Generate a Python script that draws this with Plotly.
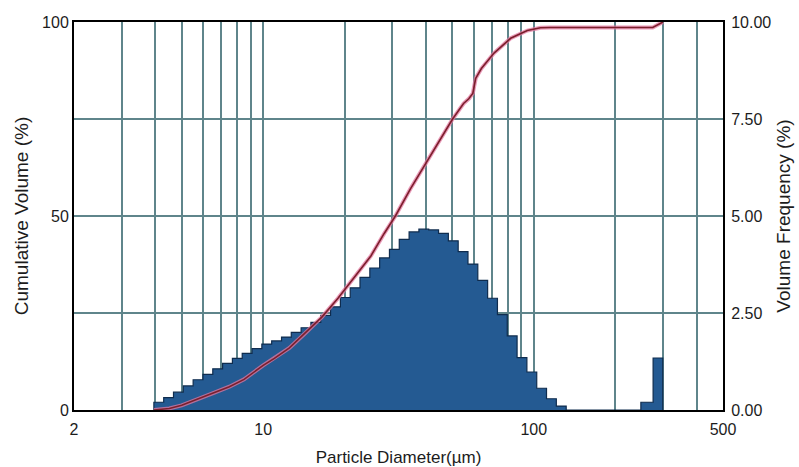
import plotly.graph_objects as go

# Lower edge of each analyser channel (µm); the last value closes the last channel
edges_um = [3.946, 4.290, 4.663, 5.069, 5.511, 5.991, 6.513, 7.080, 7.697, 8.367,
            9.096, 9.888, 10.75, 11.69, 12.70, 13.81, 15.01, 16.32, 17.74, 19.29,
            20.97, 22.79, 24.78, 26.94, 29.28, 31.83, 34.61, 37.62, 40.90, 44.46,
            48.33, 52.54, 57.11, 62.09, 67.50, 73.38, 79.77, 86.72, 94.27, 102.5,
            111.4, 121.1, 131.7, 248.6, 275.9, 299.5]

# Volume frequency (%) in each channel
freq_pct = [0.20, 0.32, 0.46, 0.62, 0.78, 0.92, 1.06, 1.20, 1.33, 1.46,
            1.58, 1.70, 1.78, 1.88, 2.00, 2.12, 2.26, 2.44, 2.66, 2.90,
            3.15, 3.42, 3.66, 3.92, 4.14, 4.40, 4.59, 4.66, 4.64, 4.55,
            4.36, 4.08, 3.76, 3.34, 2.88, 2.46, 1.91, 1.35, 0.98, 0.56,
            0.29, 0.10, 0.00, 0.20, 1.34]

# Cumulative volume curve
cum_um = [3.95, 4.5, 5.0, 5.5, 6.5, 7.5, 8.5, 10.0, 11.0, 12.5,
          14.2, 16.5, 18.9, 21.5, 25.0, 28.0, 30.8, 35.0, 40.5, 45.0,
          50.1, 55.0, 57.5, 59.5, 61.0, 64.0, 71.3, 82.1, 94.6, 105.8,
          115.0, 275.0, 290.0, 300.0]
cum_pct = [0.0, 0.4, 1.2, 2.4, 4.3, 6.0, 7.9, 11.5, 13.3, 16.0,
           19.6, 24.0, 28.8, 33.8, 39.7, 45.5, 50.0, 57.0, 64.4, 69.8,
           75.0, 79.0, 80.2, 81.6, 85.5, 88.0, 92.0, 95.8, 97.8, 98.5,
           98.6, 98.6, 99.4, 100.0]

# x-axis grid: every 1-2-...-9 decade step; labels only on a few
grid_um = [2, 3, 4, 5, 6, 7, 8, 9, 10, 20, 30, 40, 50, 60, 70, 80, 90,
           100, 200, 300, 400, 500]
grid_labels = {2: "2", 10: "10", 100: "100", 500: "500"}

GRID = "#5f858b"
TEXT = "#1c1c1c"
FONT = "Liberation Sans"

# histogram as a filled staircase, channel by channel
step_x = [edges_um[0]] + edges_um
step_y = [0.0] + freq_pct + [0.0]

fig = go.Figure()
fig.add_trace(go.Scatter(
    x=step_x, y=step_y, yaxis="y", mode="lines", line_shape="hv",
    fill="tozeroy", fillcolor="#245a92",
    line=dict(color="#0f2c4e", width=1.2), hoverinfo="skip", showlegend=False))

# cumulative curve: soft pink halo under a dark red core
fig.add_trace(go.Scatter(
    x=cum_um, y=cum_pct, yaxis="y2", mode="lines",
    line=dict(color="rgba(226,120,160,0.75)", width=4),
    hoverinfo="skip", showlegend=False))
fig.add_trace(go.Scatter(
    x=cum_um, y=cum_pct, yaxis="y2", mode="lines",
    line=dict(color="#7c1f2c", width=1.6), showlegend=False))

fig.update_layout(
    width=799, height=467,
    margin=dict(l=74, r=76, t=22, b=57),
    paper_bgcolor="white", plot_bgcolor="white",
    font=dict(family=FONT, size=16, color=TEXT),
    xaxis=dict(
        type="log", range=[0.30103, 2.69897], automargin=False,
        tickvals=grid_um, ticktext=[grid_labels.get(v, "") for v in grid_um],
        ticks="", ticklabelstandoff=4,
        showgrid=True, gridcolor=GRID, gridwidth=1.5,
        showline=True, linecolor="black", linewidth=2, mirror=True,
        zeroline=False,
        title=dict(text="Particle Diameter(µm)", font=dict(size=17, color=TEXT), standoff=14),
    ),
    yaxis=dict(
        side="right", range=[0, 10], automargin=False,
        tickvals=[0, 2.5, 5, 7.5, 10],
        ticktext=["0.00", "2.50", "5.00", "7.50", "10.00"],
        ticks="", ticklabelstandoff=3,
        showgrid=True, gridcolor=GRID, gridwidth=1.5,
        showline=True, linecolor="black", linewidth=2, zeroline=False,
        title=dict(text="Volume Frequency (%)", font=dict(size=19, color=TEXT), standoff=6),
    ),
    yaxis2=dict(
        side="left", overlaying="y", range=[0, 100], automargin=False,
        tickvals=[0, 25, 50, 75, 100], ticktext=["0", "", "50", "", "100"],
        ticks="", showgrid=False,
        showline=True, linecolor="black", linewidth=2, zeroline=False,
        title=dict(text="Cumulative Volume (%)", font=dict(size=19, color=TEXT), standoff=8),
    ),
)

fig.write_html("out.html")
